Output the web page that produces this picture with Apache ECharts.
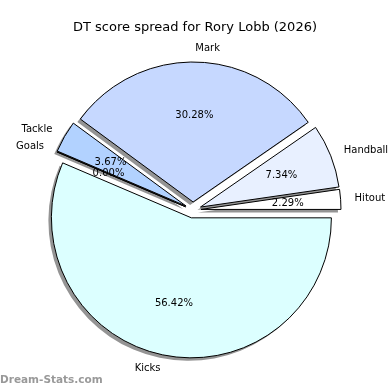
<!DOCTYPE html>
<html>
<head>
<meta charset="utf-8">
<script src="https://cdn.jsdelivr.net/npm/echarts@6/dist/echarts.min.js"></script>
<style>
html,body{margin:0;padding:0;background:#fff;}
#chart{width:390px;height:390px;}
</style>
</head>
<body>
<div id="chart"></div>
<script>
// Data (DT points by stat, counter-clockwise from 0 degrees)
var categories = ['Hitout', 'Handball', 'Mark', 'Tackle', 'Goals', 'Kicks'];
var values = [5, 16, 66, 8, 0, 123];
var colors = ['#ffffff', '#e8f0ff', '#c6d8ff', '#b2d2ff', '#8fb8ff', '#dcffff'];
var exploded = [true, true, true, true, true, true];
var titleText = 'DT score spread for Rory Lobb (2026)';
var watermark = 'Dream-Stats.com';

var total = values.reduce(function (a, b) { return a + b; }, 0);
var FONT = 'DejaVu Sans';
var CX = 193, CY = 210, R = 140, OFF = 8;
var LR = R * 1.2; // label ring: 'inside' label lands at 0.6 R

function pct(v) { return (v / total * 100).toFixed(2) + '%'; }

var fillData = categories.map(function (c, i) {
  return {
    name: c, value: values[i], selected: exploded[i],
    itemStyle: { color: colors[i] },
    select: { itemStyle: { color: colors[i] } }
  };
});
var edgeData = categories.map(function (c, i) {
  return { name: c, value: values[i], selected: exploded[i] };
});
var labelData = categories.map(function (c, i) {
  var d = { name: c, value: values[i], selected: exploded[i] };
  if (values[i] === 0) {
    // zero-width wedge: inside labels are suppressed, so anchor an outside label at 0.6 R
    d.label = { position: 'outside', distanceToLabelLine: -16 };
    d.labelLine = { show: false, length: -(LR - 0.6 * R), length2: 0 };
  }
  return d;
});

var common = {
  type: 'pie',
  center: [CX, CY],
  startAngle: 0,
  clockwise: false,
  selectedMode: 'multiple',
  selectedOffset: OFF,
  avoidLabelOverlap: false,
  silent: true,
  minShowLabelAngle: 0
};
function mk(extra) { return Object.assign({}, common, extra); }

var chart = echarts.init(document.getElementById('chart'), null, { renderer: 'canvas' });
chart.setOption({
  animation: false,
  backgroundColor: '#ffffff',
  title: [{
    text: titleText, left: 'center', top: 16,
    textStyle: { fontFamily: FONT, fontSize: 13, fontWeight: 'normal', color: '#000' }
  }, {
    text: watermark, left: 0, top: 375, padding: 0,
    textStyle: { fontFamily: FONT, fontSize: 10.5, fontWeight: 'bold', color: '#999999' }
  }],
  series: [
    mk({
      radius: R, z: 1,
      itemStyle: {
        borderWidth: 0,
        shadowColor: 'rgba(0,0,0,0.42)', shadowBlur: 0, shadowOffsetX: -3, shadowOffsetY: 3
      },
      label: { show: false },
      labelLine: { show: false },
      data: fillData
    }),
    mk({
      radius: R, z: 3,
      itemStyle: { color: 'rgba(0,0,0,0)', borderColor: '#000', borderWidth: 1 },
      label: {
        show: true, position: 'outside', formatter: '{b}',
        fontFamily: FONT, fontSize: 10, color: '#000', distanceToLabelLine: 0
      },
      labelLine: { show: false, length: 14, length2: 0 },
      data: edgeData
    }),
    mk({
      radius: LR, z: 5,
      itemStyle: { color: 'rgba(0,0,0,0)', borderWidth: 0 },
      label: {
        show: true, position: 'inside',
        fontFamily: FONT, fontSize: 10, color: '#000',
        formatter: function (p) { return pct(p.value); }
      },
      labelLine: { show: false, length: 0, length2: 0 },
      data: labelData
    })
  ]
});
</script>
</body>
</html>
